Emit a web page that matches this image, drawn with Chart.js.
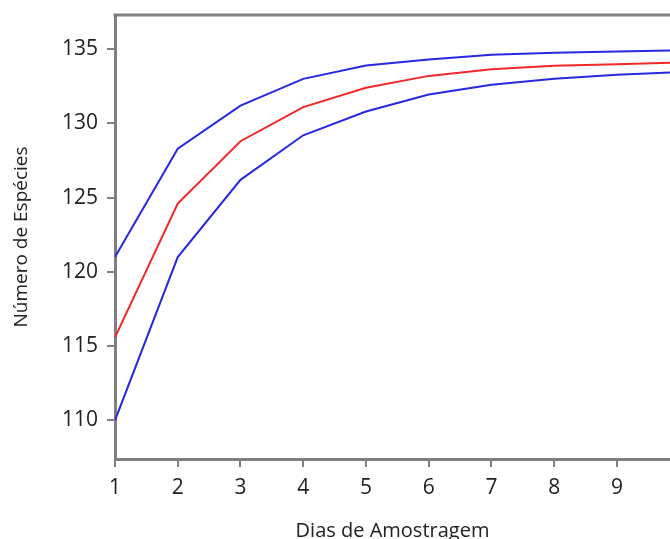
<!DOCTYPE html>
<html>
<head>
<meta charset="utf-8">
<script src="https://cdn.jsdelivr.net/npm/chart.js@4"></script>
<style>
  html, body { margin: 0; padding: 0; overflow: hidden; background: #fff; }
  #box { width: 670px; height: 539px; }
</style>
</head>
<body>
<div id="box"><canvas id="grafico"></canvas></div>
<script>
// dias de amostragem
const dias = [1, 2, 3, 4, 5, 6, 7, 8, 9, 10];
// curva de acumulação (média) e intervalo de confiança
const media = [115.6, 124.6, 128.8, 131.1, 132.4, 133.2, 133.65, 133.88, 133.99, 134.1];
const superior = [121.0, 128.3, 131.2, 133.0, 133.9, 134.3, 134.62, 134.75, 134.84, 134.92];
const inferior = [110.0, 121.0, 126.2, 129.2, 130.8, 131.95, 132.6, 133.0, 133.27, 133.45];

const azul = "rgb(40, 40, 225)";
const vermelho = "rgb(240, 40, 40)";
const cinza = "#808080";
const fonte = "'Open Sans', 'DejaVu Sans', sans-serif";

function serie(valores, cor) {
  return {
    data: valores.map((v, i) => ({ x: dias[i], y: v })),
    borderColor: cor,
    borderWidth: 2,
    pointRadius: 0,
    tension: 0,
    fill: false,
  };
}

// linha superior da moldura
const moldura = {
  id: "moldura",
  afterDraw(chart) {
    const { ctx, chartArea } = chart;
    ctx.save();
    ctx.strokeStyle = cinza;
    ctx.lineWidth = 3;
    ctx.beginPath();
    ctx.moveTo(chartArea.left - 1.5, chartArea.top);
    ctx.lineTo(chartArea.right, chartArea.top);
    ctx.stroke();
    ctx.restore();
  },
};

const ctx = document.getElementById("grafico").getContext("2d");

new Chart(ctx, {
  type: "line",
  data: {
    datasets: [serie(superior, azul), serie(inferior, azul), serie(media, vermelho)],
  },
  plugins: [moldura],
  options: {
    responsive: true,
    maintainAspectRatio: false,
    animation: false,
    layout: { padding: { top: 15, right: 0, left: 0, bottom: 0 } },
    plugins: { legend: { display: false }, tooltip: { enabled: false } },
    scales: {
      x: {
        type: "linear",
        min: 1,
        max: 9.845,
        ticks: { stepSize: 1, includeBounds: false, color: "#222", padding: 8, font: { family: fonte, size: 21 } },
        grid: { drawOnChartArea: false, drawTicks: true, tickLength: 8, color: cinza, lineWidth: 2 },
        border: { color: cinza, width: 3 },
        title: {
          display: true,
          text: "Dias de Amostragem",
          color: "#222",
          padding: 0,
          font: { family: fonte, size: 20, lineHeight: 0.8 },
        },
        afterFit: (s) => { s.height = 80; s.paddingRight = 0; },
      },
      y: {
        min: 107.4,
        max: 137.3,
        ticks: { stepSize: 5, includeBounds: false, color: "#222", padding: 9, font: { family: fonte, size: 21 } },
        grid: { drawOnChartArea: false, drawTicks: true, tickLength: 8, color: cinza, lineWidth: 2 },
        border: { color: cinza, width: 3 },
        title: {
          display: true,
          text: "Número de Espécies",
          color: "#222",
          padding: { top: 10 },
          font: { family: fonte, size: 19 },
        },
        afterFit: (s) => { s.width = 115; s.paddingTop = 0; s.paddingBottom = 0; },
      },
    },
  },
});
</script>
</body>
</html>
